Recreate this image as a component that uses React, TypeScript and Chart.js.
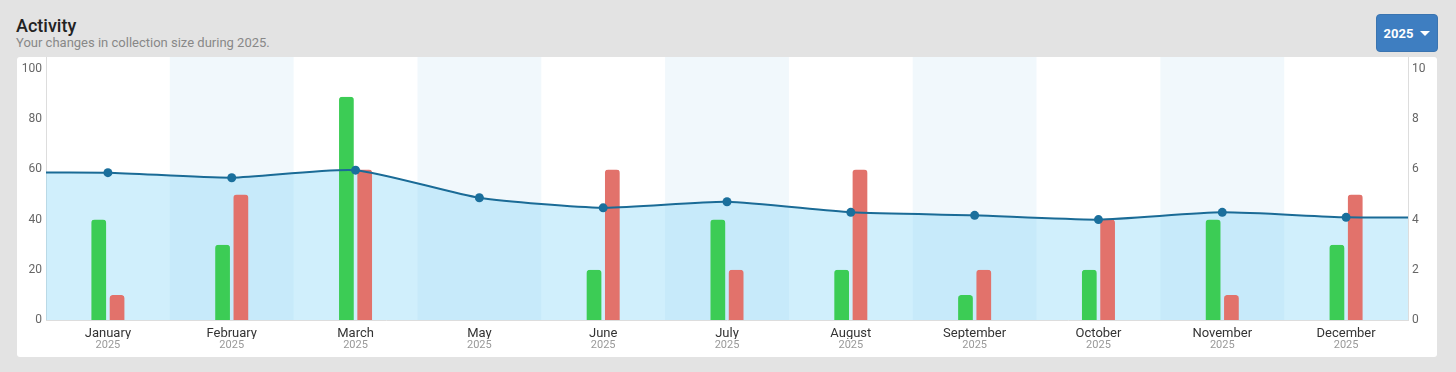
import React, { useEffect, useRef } from "react";
import { Chart, registerables } from "chart.js";

Chart.register(...registerables);

const months = ["January", "February", "March", "May", "June", "July", "August", "September", "October", "November", "December"];
const years = ["2025", "2025", "2025", "2025", "2025", "2025", "2025", "2025", "2025", "2025", "2025"];
const added = [40, 30, 89, 0, 20, 40, 20, 10, 20, 40, 30];
const removed = [10, 50, 60, 0, 60, 20, 60, 20, 40, 10, 50];
const collectionSize = [5.87, 5.67, 5.97, 4.87, 4.47, 4.71, 4.29, 4.17, 4.0, 4.29, 4.09];
const sizeBefore = 5.87;
const sizeAfter = 4.09;
const leftTicksMax = 100;
const rightTicksMax = 10;

const bandPlugin = {
  id: "bands",
  beforeDraw(chart: any) {
    const { ctx, chartArea, scales } = chart;
    const xs = scales.x;
    const n = months.length;
    const w = (chartArea.right - chartArea.left) / n;
    ctx.save();
    ctx.fillStyle = "rgba(190,225,242,0.22)";
    for (let i = 1; i < n; i += 2) {
      const c = xs.getPixelForValue(i);
      ctx.fillRect(c - w / 2, chartArea.top, w, chartArea.bottom - chartArea.top);
    }
    ctx.restore();
  },
};

export default function App() {
  const ref = useRef<HTMLCanvasElement>(null);
  useEffect(() => {
    document.body.style.margin = "0";
    const n = months.length;
    const lineData = [
      { x: -1, y: sizeBefore },
      ...collectionSize.map((v, i) => ({ x: i, y: v })),
      { x: n, y: sizeAfter },
    ];
    const radii = lineData.map((_, i) => (i === 0 || i === lineData.length - 1 ? 0 : 4.5));
    const barCommon = {
      type: "bar",
      xAxisID: "x",
      yAxisID: "y",
      borderWidth: { left: 1.8, right: 1.8, top: 0, bottom: 0 },
      borderColor: "rgba(0,0,0,0)",
      borderSkipped: "bottom",
      borderRadius: { topLeft: 5, topRight: 5, bottomLeft: 0, bottomRight: 0 },
      barThickness: 18.3,
      inflateAmount: 0,
      order: 1,
    };
    const chart = new Chart(ref.current!, {
      type: "bar",
      data: {
        labels: months,
        datasets: [
          {
            type: "line",
            data: lineData as any,
            xAxisID: "xl",
            yAxisID: "y1",
            borderColor: "#1a6b96",
            borderWidth: 2,
            pointRadius: radii,
            pointBackgroundColor: "#1a6f9c",
            pointBorderColor: "#1a6f9c",
            pointBorderWidth: 0,
            tension: 0.2,
            fill: "origin",
            backgroundColor: "rgba(120,210,245,0.35)",
            order: 0,
          } as any,
          { ...barCommon, data: added, backgroundColor: "#3ccc55" } as any,
          { ...barCommon, data: removed, backgroundColor: "#e2726b" } as any,
        ],
      },
      options: {
        responsive: false,
        animation: false,
        layout: { padding: 0 },
        plugins: {
          legend: { display: false },
          tooltip: { enabled: false },
          filler: { drawTime: "beforeDatasetsDraw" },
        } as any,
        scales: {
          x: {
            type: "category",
            position: "bottom",
            offset: true,
            grid: { display: false, drawTicks: false },
            border: { display: true, color: "#dddddd" },
            ticks: { color: "#333333", font: { family: "Roboto", size: 13 }, padding: 6, maxRotation: 0, autoSkip: false },
            afterFit: (s: any) => { s.height = 19; s.paddingLeft = 0; s.paddingRight = 0; },
          },
          x2: {
            type: "category",
            labels: years,
            position: "bottom",
            offset: true,
            grid: { display: false, drawTicks: false },
            border: { display: false },
            ticks: { color: "#999999", font: { family: "Roboto", size: 11 }, padding: 0, maxRotation: 0, autoSkip: false },
            afterFit: (s: any) => { s.height = 18; s.paddingLeft = 0; s.paddingRight = 0; },
          },
          xl: { type: "linear", min: -0.5, max: n - 0.5, offset: false, display: false, grid: { offset: false } },
          y: {
            position: "left",
            min: 0,
            max: leftTicksMax * 1.048,
            grid: { display: false, drawTicks: false },
            border: { display: true, color: "#dddddd" },
            ticks: { stepSize: 20, includeBounds: false, color: "#666666", font: { family: "Roboto", size: 12 }, padding: 4 },
            afterFit: (s: any) => { s.width = 29; s.paddingTop = 0; s.paddingBottom = 0; },
          },
          y1: {
            position: "right",
            min: 0,
            max: rightTicksMax * 1.048,
            grid: { display: false, drawTicks: false },
            border: { display: true, color: "#dddddd" },
            ticks: { stepSize: 2, includeBounds: false, color: "#666666", font: { family: "Roboto", size: 12 }, padding: 4 },
            afterFit: (s: any) => { s.width = 29; s.paddingTop = 0; s.paddingBottom = 0; },
          },
        } as any,
      },
      plugins: [bandPlugin],
    });
    return () => chart.destroy();
  }, []);

  return (
    <div style={{ position: "absolute", left: 0, top: 0, width: 1456, height: 372, background: "#e3e3e3", fontFamily: "Roboto, sans-serif" }}>
      <div style={{ position: "absolute", left: 16, top: 17, fontSize: 18, lineHeight: "18px", fontWeight: 500, color: "#222" }}>Activity</div>
      <div style={{ position: "absolute", left: 16, top: 36, fontSize: 13, lineHeight: "13px", color: "#888" }}>Your changes in collection size during 2025.</div>
      <div style={{ position: "absolute", left: 1376, top: 14, width: 62, height: 38, background: "#3e7ec1", borderRadius: 4, border: "1px solid #3a74b0", boxSizing: "border-box", color: "#fff", fontSize: 13, fontWeight: 700, display: "flex", alignItems: "center", justifyContent: "center", gap: 7 }}>
        <span>2025</span>
        <span style={{ width: 0, height: 0, borderLeft: "5px solid transparent", borderRight: "5px solid transparent", borderTop: "5px solid #fff" }} />
      </div>
      <div style={{ position: "absolute", left: 17, top: 57, width: 1420, height: 300, background: "#fff", borderRadius: 3 }}>
        <canvas ref={ref} width={1420} height={300} style={{ display: "block" }} />
      </div>
    </div>
  );
}
